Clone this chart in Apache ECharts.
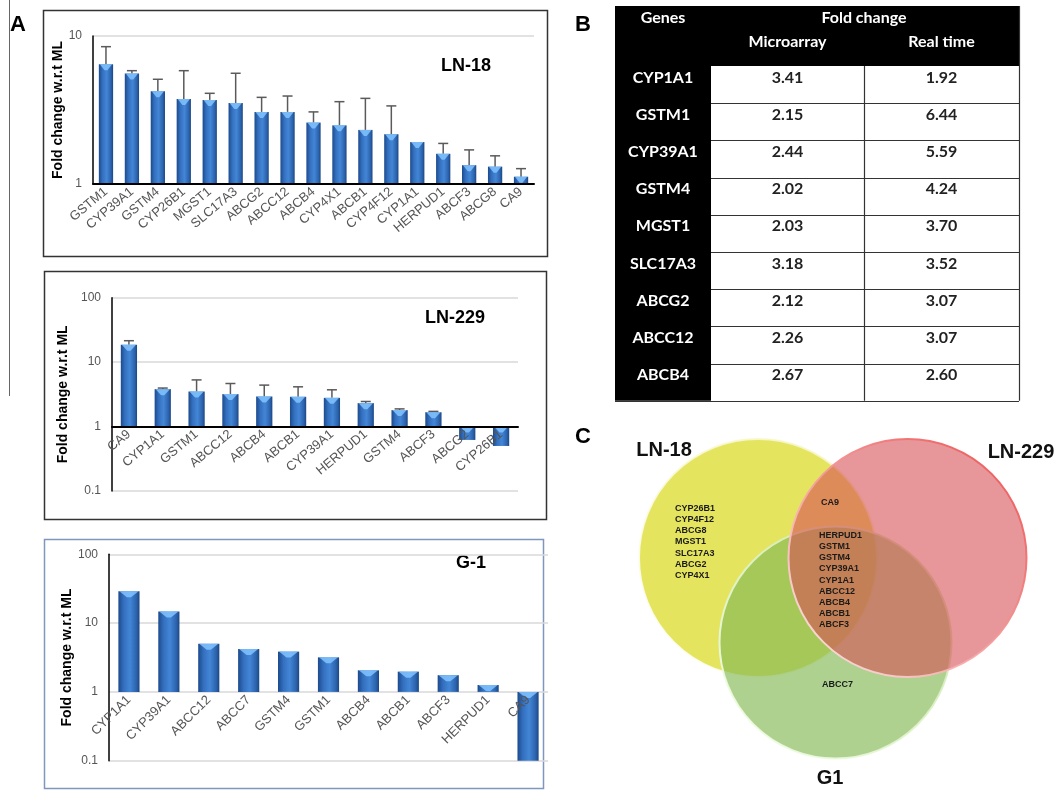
<!DOCTYPE html>
<html><head><meta charset="utf-8">
<script src="https://cdn.jsdelivr.net/npm/echarts@6/dist/echarts.min.js"></script>
<style>html,body{margin:0;padding:0;background:#fff}#c{width:1057px;height:790px}</style>
</head><body><div id="c"></div><script>
// ---------- DATA ----------
const ln18Genes = ['GSTM1','CYP39A1','GSTM4','CYP26B1','MGST1','SLC17A3','ABCG2','ABCC12','ABCB4','CYP4X1','ABCB1','CYP4F12','CYP1A1','HERPUD1','ABCF3','ABCG8','CA9'];
const ln18Values = [6.44,5.59,4.24,3.75,3.70,3.52,3.07,3.07,2.60,2.49,2.32,2.17,1.92,1.60,1.34,1.31,1.12];
const ln18ErrorHigh = [8.47,5.83,5.10,5.83,4.10,5.60,3.85,3.93,3.07,3.60,3.79,3.37,null,1.88,1.70,1.55,1.27];

const ln229Genes = ['CA9','CYP1A1','GSTM1','ABCC12','ABCB4','ABCB1','CYP39A1','HERPUD1','GSTM4','ABCF3','ABCG2','CYP26B1'];
const ln229Values = [18.6,3.81,3.50,3.19,2.93,2.90,2.79,2.31,1.80,1.67,0.62,0.50];
const ln229ErrorHigh = [21.5,3.96,5.30,4.66,4.40,4.14,3.72,2.45,1.88,1.72,null,null];

const g1Genes = ['CYP1A1','CYP39A1','ABCC12','ABCC7','GSTM4','GSTM1','ABCB4','ABCB1','ABCF3','HERPUD1','CA9'];
const g1Values = [29,14.7,4.99,4.22,3.85,3.18,2.06,1.97,1.75,1.26,0.1];

const tableGenes = ['CYP1A1','GSTM1','CYP39A1','GSTM4','MGST1','SLC17A3','ABCG2','ABCC12','ABCB4'];
const tableMicroarray = ['3.41','2.15','2.44','2.02','2.03','3.18','2.12','2.26','2.67'];
const tableRealTime = ['1.92','6.44','5.59','4.24','3.70','3.52','3.07','3.07','2.60'];

const vennSetNames = ['LN-18','LN-229','G1'];
const vennLN18Only = ['CYP26B1','CYP4F12','ABCG8','MGST1','SLC17A3','ABCG2','CYP4X1'];
const vennLN18LN229 = ['CA9'];
const vennAllThree = ['HERPUD1','GSTM1','GSTM4','CYP39A1','CYP1A1','ABCC12','ABCB4','ABCB1','ABCF3'];
const vennG1Only = ['ABCC7'];

// ---------- RENDER ----------
const FONT = '"Liberation Sans", Arial, Helvetica, sans-serif';
const TFONT = 'Lato, "Open Sans", "Liberation Sans", sans-serif';
const chart = echarts.init(document.getElementById('c'), null, {renderer: 'canvas'});

function barGrad() {
  return new echarts.graphic.LinearGradient(0, 0, 1, 0, [
    {offset: 0, color: '#1c4a8c'}, {offset: 0.25, color: '#336fbe'},
    {offset: 0.55, color: '#4386d6'}, {offset: 0.85, color: '#2c63ad'}, {offset: 1, color: '#1b4783'}
  ]);
}
function barRender(ratio) {
  return function (params, api) {
    const i = api.value(0), v = api.value(1);
    const p = api.coord([i, v]);
    const b = api.coord([i, 1]);
    const w = api.size([1, 0])[0] * ratio;
    const x0 = p[0] - w / 2;
    const top = Math.min(p[1], b[1]);
    const h = Math.abs(p[1] - b[1]);
    const cap = Math.min(6, h);
    return {type: 'group', children: [
      {type: 'rect', shape: {x: x0, y: top, width: w, height: h}, style: {fill: barGrad()}},
      {type: 'polygon', shape: {points: [[x0 + 1, top], [x0 + w - 1, top], [p[0] + w * 0.1, top + cap], [p[0] - w * 0.1, top + cap]]},
        style: {fill: 'rgba(130,195,255,0.85)'}}
    ]};
  };
}
function errRender(params, api) {
  const i = api.value(0);
  const a = api.coord([i, api.value(1)]);
  const t = api.coord([i, api.value(2)]);
  const cw = 5;
  return {type: 'group', children: [
    {type: 'line', shape: {x1: a[0], y1: a[1], x2: t[0], y2: t[1]}, style: {stroke: '#5a5a5a', lineWidth: 1.5}},
    {type: 'line', shape: {x1: t[0] - cw, y1: t[1], x2: t[0] + cw, y2: t[1]}, style: {stroke: '#5a5a5a', lineWidth: 1.5}}
  ]};
}
function makeX(idx, genes, rotate, offset, showLine) {
  return {type: 'category', gridIndex: idx, data: genes, position: 'bottom', offset: offset, z: 10,
    axisLine: {show: showLine, lineStyle: {color: '#000', width: 2}}, axisTick: {show: false},
    axisLabel: {interval: 0, rotate: rotate, color: '#555', fontSize: 13, fontFamily: FONT, margin: 6},
    splitLine: {show: false}};
}
function makeY(idx, min, max, nameGap) {
  return {type: 'log', logBase: 10, gridIndex: idx, min: min, max: max,
    name: 'Fold change w.r.t ML', nameLocation: 'middle', nameGap: nameGap, nameRotate: 90,
    nameTextStyle: {color: '#000', fontWeight: 'bold', fontSize: 14, fontFamily: FONT},
    axisLine: {show: true, lineStyle: {color: '#000', width: 1.5}}, axisTick: {show: false},
    axisLabel: {color: '#555', fontSize: 12, fontFamily: FONT, margin: 11},
    splitLine: {show: true, lineStyle: {color: '#d9d9d9', width: 1.5}}, minorTick: {show: false}, minorSplitLine: {show: false}};
}
function errData(vals, hi) {
  const out = [];
  vals.forEach((v, i) => { if (hi[i] != null) out.push([i, v, hi[i]]); });
  return out;
}

const grids = [
  {left: 93, top: 36, width: 441, height: 148},
  {left: 112, top: 297.7, width: 406, height: 193.3},
  {left: 109, top: 554.3, width: 439, height: 206.4}
];
grids.forEach(g => { g.containLabel = false; g.outerBoundsMode = 'none'; });

// ---------- GRAPHICS (frames, table, venn) ----------
const gfx = [];
gfx.push({type: 'line', shape: {x1: 9.5, y1: 0, x2: 9.5, y2: 396}, style: {stroke: '#666', lineWidth: 1}});
[['A', 18, 25], ['B', 583, 25], ['C', 583, 437]].forEach(l => gfx.push({type: 'text', x: l[1], y: l[2],
  style: {text: l[0], fontFamily: FONT, fontWeight: 'bold', fontSize: 22, fill: '#000', align: 'center', verticalAlign: 'middle'}}));
gfx.push({type: 'rect', shape: {x: 43.5, y: 10.5, width: 504, height: 246}, style: {fill: null, stroke: '#333', lineWidth: 1.5}});
gfx.push({type: 'rect', shape: {x: 44.5, y: 271.5, width: 502, height: 248}, style: {fill: null, stroke: '#333', lineWidth: 1.5}});
gfx.push({type: 'rect', shape: {x: 44.5, y: 539.5, width: 499, height: 249}, style: {fill: null, stroke: '#7f97bd', lineWidth: 1.5}});
[['LN-18', 466, 66], ['LN-229', 455, 318], ['G-1', 471, 563]].forEach(t => gfx.push({type: 'text', x: t[1], y: t[2],
  style: {text: t[0], fontFamily: FONT, fontWeight: 'bold', fontSize: 18, fill: '#000', align: 'center', verticalAlign: 'middle'}}));

// table
const tL = 615, tR = 1019, tTop = 6, tHead = 66, c1 = 711, c2 = 864, rowH = 37.2;
const tBottom = tHead + rowH * tableGenes.length;
gfx.push({type: 'rect', shape: {x: tL, y: tTop, width: tR - tL, height: tHead - tTop}, style: {fill: '#000'}});
gfx.push({type: 'rect', shape: {x: tL, y: tTop, width: c1 - tL, height: tBottom - tTop}, style: {fill: '#000'}});
const hdr = {fontFamily: TFONT, fontWeight: 'bold', fontSize: 16, fill: '#fff', align: 'center', verticalAlign: 'middle'};
gfx.push({type: 'text', x: (tL + c1) / 2, y: 18, style: Object.assign({text: 'Genes'}, hdr)});
gfx.push({type: 'text', x: c2, y: 18, style: Object.assign({text: 'Fold change'}, hdr)});
gfx.push({type: 'text', x: (c1 + c2) / 2, y: 42, style: Object.assign({text: 'Microarray'}, hdr)});
gfx.push({type: 'text', x: (c2 + tR) / 2, y: 42, style: Object.assign({text: 'Real time'}, hdr)});
tableGenes.forEach((g, i) => {
  const y0 = tHead + i * rowH;
  gfx.push({type: 'text', x: (tL + c1) / 2, y: y0 + 11.5, style: Object.assign({text: g}, hdr)});
  gfx.push({type: 'text', x: (c1 + c2) / 2, y: y0 + 11.5, style: Object.assign({}, hdr, {text: tableMicroarray[i], fill: '#222'})});
  gfx.push({type: 'text', x: (c2 + tR) / 2, y: y0 + 11.5, style: Object.assign({}, hdr, {text: tableRealTime[i], fill: '#222'})});
  gfx.push({type: 'line', shape: {x1: c1, y1: Math.round(y0 + rowH) + 0.5, x2: tR, y2: Math.round(y0 + rowH) + 0.5}, style: {stroke: '#333', lineWidth: 1.2}});
});
gfx.push({type: 'line', shape: {x1: tL, y1: Math.round(tBottom) + 0.5, x2: tR, y2: Math.round(tBottom) + 0.5}, style: {stroke: '#333', lineWidth: 1.2}});
gfx.push({type: 'line', shape: {x1: c2 + 0.5, y1: tHead, x2: c2 + 0.5, y2: tBottom}, style: {stroke: '#333', lineWidth: 1.2}});
gfx.push({type: 'line', shape: {x1: tR + 0.5, y1: tTop, x2: tR + 0.5, y2: tBottom}, style: {stroke: '#333', lineWidth: 1.2}});

// venn
function rim(c1, c2, x1, y1, x2, y2) { return new echarts.graphic.LinearGradient(x1, y1, x2, y2, [{offset: 0, color: c1}, {offset: 1, color: c2}]); }
gfx.push({type: 'circle', shape: {cx: 758, cy: 558, r: 119}, style: {fill: 'rgba(221,221,55,0.8)', stroke: rim('rgba(245,245,190,0.9)', 'rgba(255,255,255,0.9)', 1, 0, 0, 1), lineWidth: 2}});
gfx.push({type: 'circle', shape: {cx: 835.5, cy: 642.5, r: 116}, style: {fill: 'rgba(130,185,85,0.65)', stroke: rim('rgba(200,230,170,0.9)', 'rgba(245,255,235,0.95)', 1, 0, 0, 1), lineWidth: 2}});
gfx.push({type: 'circle', shape: {cx: 907.5, cy: 558, r: 119}, style: {fill: 'rgba(215,80,85,0.6)', stroke: rim('rgba(235,70,70,0.95)', 'rgba(255,240,240,0.95)', 1, 0, 0, 1), lineWidth: 2}});
[[vennSetNames[0], 664, 450], [vennSetNames[1], 1021, 452], [vennSetNames[2], 830, 778]].forEach(t => gfx.push({type: 'text', x: t[1], y: t[2],
  style: {text: t[0], fontFamily: FONT, fontWeight: 'bold', fontSize: 20, fill: '#111', align: 'center', verticalAlign: 'middle'}}));
const vstyle = {fontFamily: FONT, fontWeight: 'bold', fontSize: 9, fill: '#1a1a1a', align: 'left', verticalAlign: 'middle'};
vennLN18Only.forEach((g, i) => gfx.push({type: 'text', x: 675, y: 508.3 + i * 11.2, style: Object.assign({text: g}, vstyle)}));
vennLN18LN229.forEach((g, i) => gfx.push({type: 'text', x: 821, y: 502.7 + i * 11.1, style: Object.assign({text: g}, vstyle)}));
vennAllThree.forEach((g, i) => gfx.push({type: 'text', x: 819, y: 535.7 + i * 11.08, style: Object.assign({text: g}, vstyle)}));
vennG1Only.forEach((g, i) => gfx.push({type: 'text', x: 822, y: 684.3 + i * 11.1, style: Object.assign({text: g}, vstyle)}));

const option = {
  backgroundColor: '#fff',
  animation: false,
  grid: grids,
  xAxis: [
    makeX(0, ln18Genes, 40, 0, true),
    makeX(1, ln229Genes, 40, -64.43, true),
    makeX(2, g1Genes, 45, -68.8, false)
  ],
  yAxis: [makeY(0, 1, 10, 23), makeY(1, 0.1, 100, 42), makeY(2, 0.1, 100, 32)],
  series: [
    {type: 'custom', name: 'LN-18', xAxisIndex: 0, yAxisIndex: 0, renderItem: barRender(0.55), clip: false,
      encode: {x: 0, y: 1}, data: ln18Values.map((v, i) => [i, v]), z: 3},
    {type: 'custom', name: 'LN-18 SD', xAxisIndex: 0, yAxisIndex: 0, renderItem: errRender, clip: false,
      encode: {x: 0, y: [1, 2]}, data: errData(ln18Values, ln18ErrorHigh), z: 2},
    {type: 'custom', name: 'LN-229', xAxisIndex: 1, yAxisIndex: 1, renderItem: barRender(0.48), clip: false,
      encode: {x: 0, y: 1}, data: ln229Values.map((v, i) => [i, v]), z: 3},
    {type: 'custom', name: 'LN-229 SD', xAxisIndex: 1, yAxisIndex: 1, renderItem: errRender, clip: false,
      encode: {x: 0, y: [1, 2]}, data: errData(ln229Values, ln229ErrorHigh), z: 2},
    {type: 'custom', name: 'G-1', xAxisIndex: 2, yAxisIndex: 2, renderItem: barRender(0.53), clip: false,
      encode: {x: 0, y: 1}, data: g1Values.map((v, i) => [i, v]), z: 3}
  ],
  graphic: gfx
};
chart.setOption(option);
</script></body></html>
